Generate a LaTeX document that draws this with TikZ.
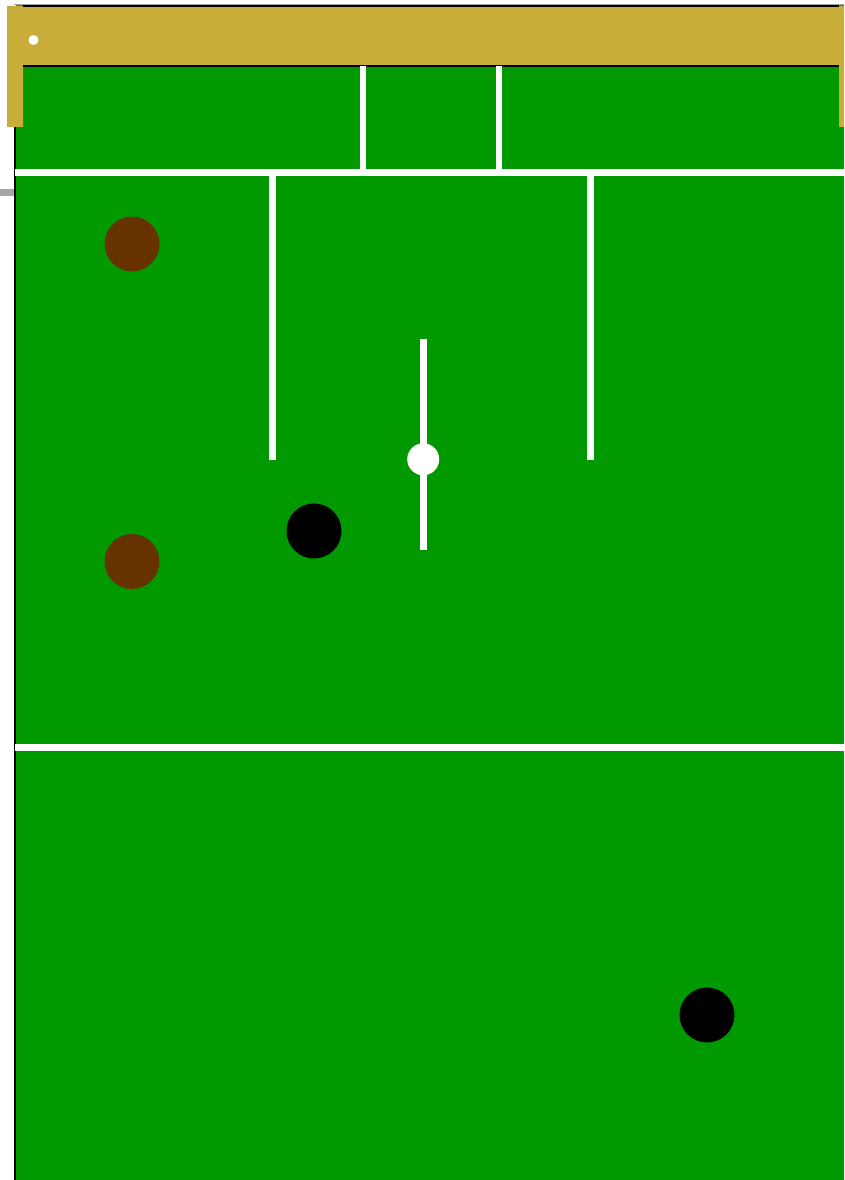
\documentclass[tikz,border=0pt]{standalone}
\definecolor{pitch}{HTML}{009900}
\definecolor{gold}{HTML}{C9AD3A}
\definecolor{brownball}{HTML}{663300}
\definecolor{tickgrey}{HTML}{A6A6A6}
\tikzset{
  px/.style={x=1pt,y=-1pt},
  ball/.style={fill=black},
  brownspot/.style={fill=brownball},
  whitefill/.style={fill=white}
}
\begin{document}
\begin{tikzpicture}[px]
\useasboundingbox (0,0) rectangle (844,1180);
\fill[white] (0,0) rectangle (844,1180);
% pitch
\fill[pitch] (16,5) rectangle (844,1180);
\fill[black] (14,127) rectangle (16,1180);
\fill[tickgrey] (14,4) rectangle (844,5);
\fill[tickgrey] (0,189) rectangle (14,196);
% gold frame
\fill[gold] (7,6) -- (844,6) -- (844,127) -- (839,127) -- (839,65) -- (23,65) -- (23,127) -- (7,127) -- cycle;
\fill[black] (23,5) rectangle (839,7);
\fill[black] (23,65) rectangle (839,67);
\fill[whitefill] (33.5,40) circle (5);
% lines
\fill[whitefill] (15,169) rectangle (844,176);
\fill[whitefill] (15,744) rectangle (844,750.5);
\fill[whitefill] (359.5,66) rectangle (366,169);
\fill[whitefill] (495.8,66) rectangle (502.2,169);
\fill[whitefill] (268.8,176) rectangle (275.5,459.5);
\fill[whitefill] (586.8,176) rectangle (593.5,459.5);
\fill[whitefill] (420,338.5) rectangle (427,550.3);
\fill[whitefill] (423.2,459.3) circle (16);
% balls
\fill[brownspot] (132,244) circle (27.5);
\fill[brownspot] (132,561.5) circle (27.5);
\fill[ball] (314,531) circle (27.5);
\fill[ball] (707,1015) circle (27.5);
\end{tikzpicture}
\end{document}
